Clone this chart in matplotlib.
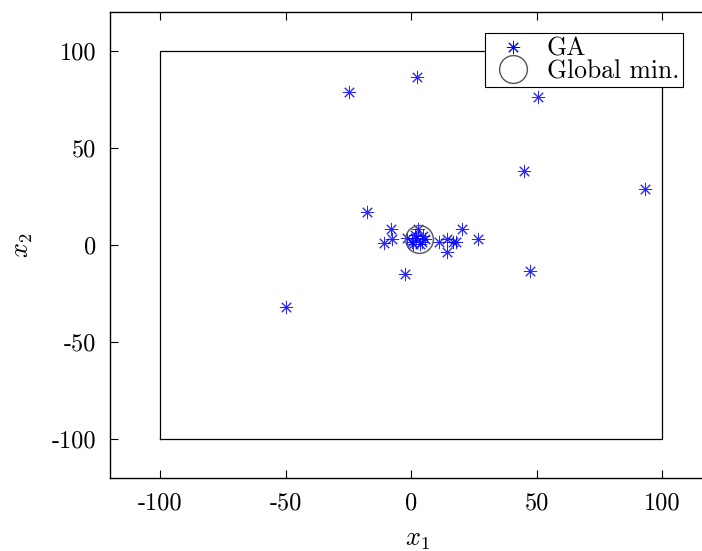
import matplotlib
matplotlib.use("Agg")
import matplotlib.pyplot as plt
from matplotlib.lines import Line2D

plt.rcParams['font.family'] = 'serif'
plt.rcParams['font.serif'] = ['cmr10', 'DejaVu Serif']
plt.rcParams['mathtext.fontset'] = 'cm'
plt.rcParams['axes.unicode_minus'] = False

# GA solutions (x1, x2)
ga_x1 = [-24.7, 2.4, 50.6, 45.0, 93.2, -17.5, -49.8, -2.4, 47.4,
         -7.9, -10.9, -7.7, -1.8, 2.6, 1.9, 4.2, 0.8, 4.8, 1.5, 0.2, 3.5, 5.5,
         11.0, 14.1, 16.5, 14.2, 18.0, 20.2, 26.5]
ga_x2 = [78.9, 86.6, 76.3, 38.3, 29.0, 17.0, -32.1, -14.7, -13.6,
         8.1, 1.2, 3.0, 3.4, 8.1, 3.8, 1.3, 0.5, 4.8, 5.3, 1.3, 0.5, 3.0,
         1.3, 3.0, 1.3, -3.6, 1.3, 8.1, 2.9]

global_min = (3.0, 3.0)
bounds = [-100, 100]

ticks = [-100, -50, 0, 50, 100]
tick_labels = ['-100', '-50', '0', '50', '100']

fig = plt.figure(figsize=(7.02, 5.51), dpi=100)
# right edge of the axes lies past the image border (cropped like the original)
ax = fig.add_axes([110 / 702, 1 - 478 / 551, 615 / 702, 466 / 551])

# search-space box
lo, hi = bounds
ax.plot([lo, hi, hi, lo, lo], [lo, lo, hi, hi, lo], color='black', lw=0.9)

asterisk = (8, 2, 0)
ax.plot(ga_x1, ga_x2, linestyle='none', marker=asterisk, markersize=9.5,
        markeredgewidth=0.7, color='blue', alpha=0.85)
ax.plot([global_min[0]], [global_min[1]], linestyle='none', marker='o',
        markersize=20, markerfacecolor='none', markeredgecolor='#555555',
        markeredgewidth=1.0)

ax.set_xlim(-120, 125)
ax.set_ylim(-120, 120)
ax.set_xticks(ticks)
ax.set_xticklabels(tick_labels)
ax.set_yticks(ticks)
ax.set_yticklabels(tick_labels)
ax.tick_params(direction='in', length=6, width=0.8, top=True, right=True,
               labelsize=17.5, pad=10)
for s in ax.spines.values():
    s.set_linewidth(1.0)

ax.set_xlabel(r'$x_1$', fontsize=19, labelpad=10)
ax.set_ylabel(r'$x_2$', fontsize=19, labelpad=12)

handles = [
    Line2D([], [], linestyle='none', marker=asterisk, markersize=9.5,
           markeredgewidth=0.7, color='blue'),
    Line2D([], [], linestyle='none', marker='o', markersize=20,
           markerfacecolor='none', markeredgecolor='#555555', markeredgewidth=1.0),
]
leg = ax.legend(handles, ['GA', 'Global min.'], loc='upper right',
                bbox_to_anchor=(683 / 702, 1 - 33 / 551),
                bbox_transform=fig.transFigure, fontsize=18.5, fancybox=False,
                framealpha=1, edgecolor='black', borderaxespad=0,
                handletextpad=0.4, borderpad=0.15, labelspacing=-0.05,
                handlelength=1.85)
leg.get_frame().set_linewidth(0.8)

fig.savefig('out.png', dpi=100)
